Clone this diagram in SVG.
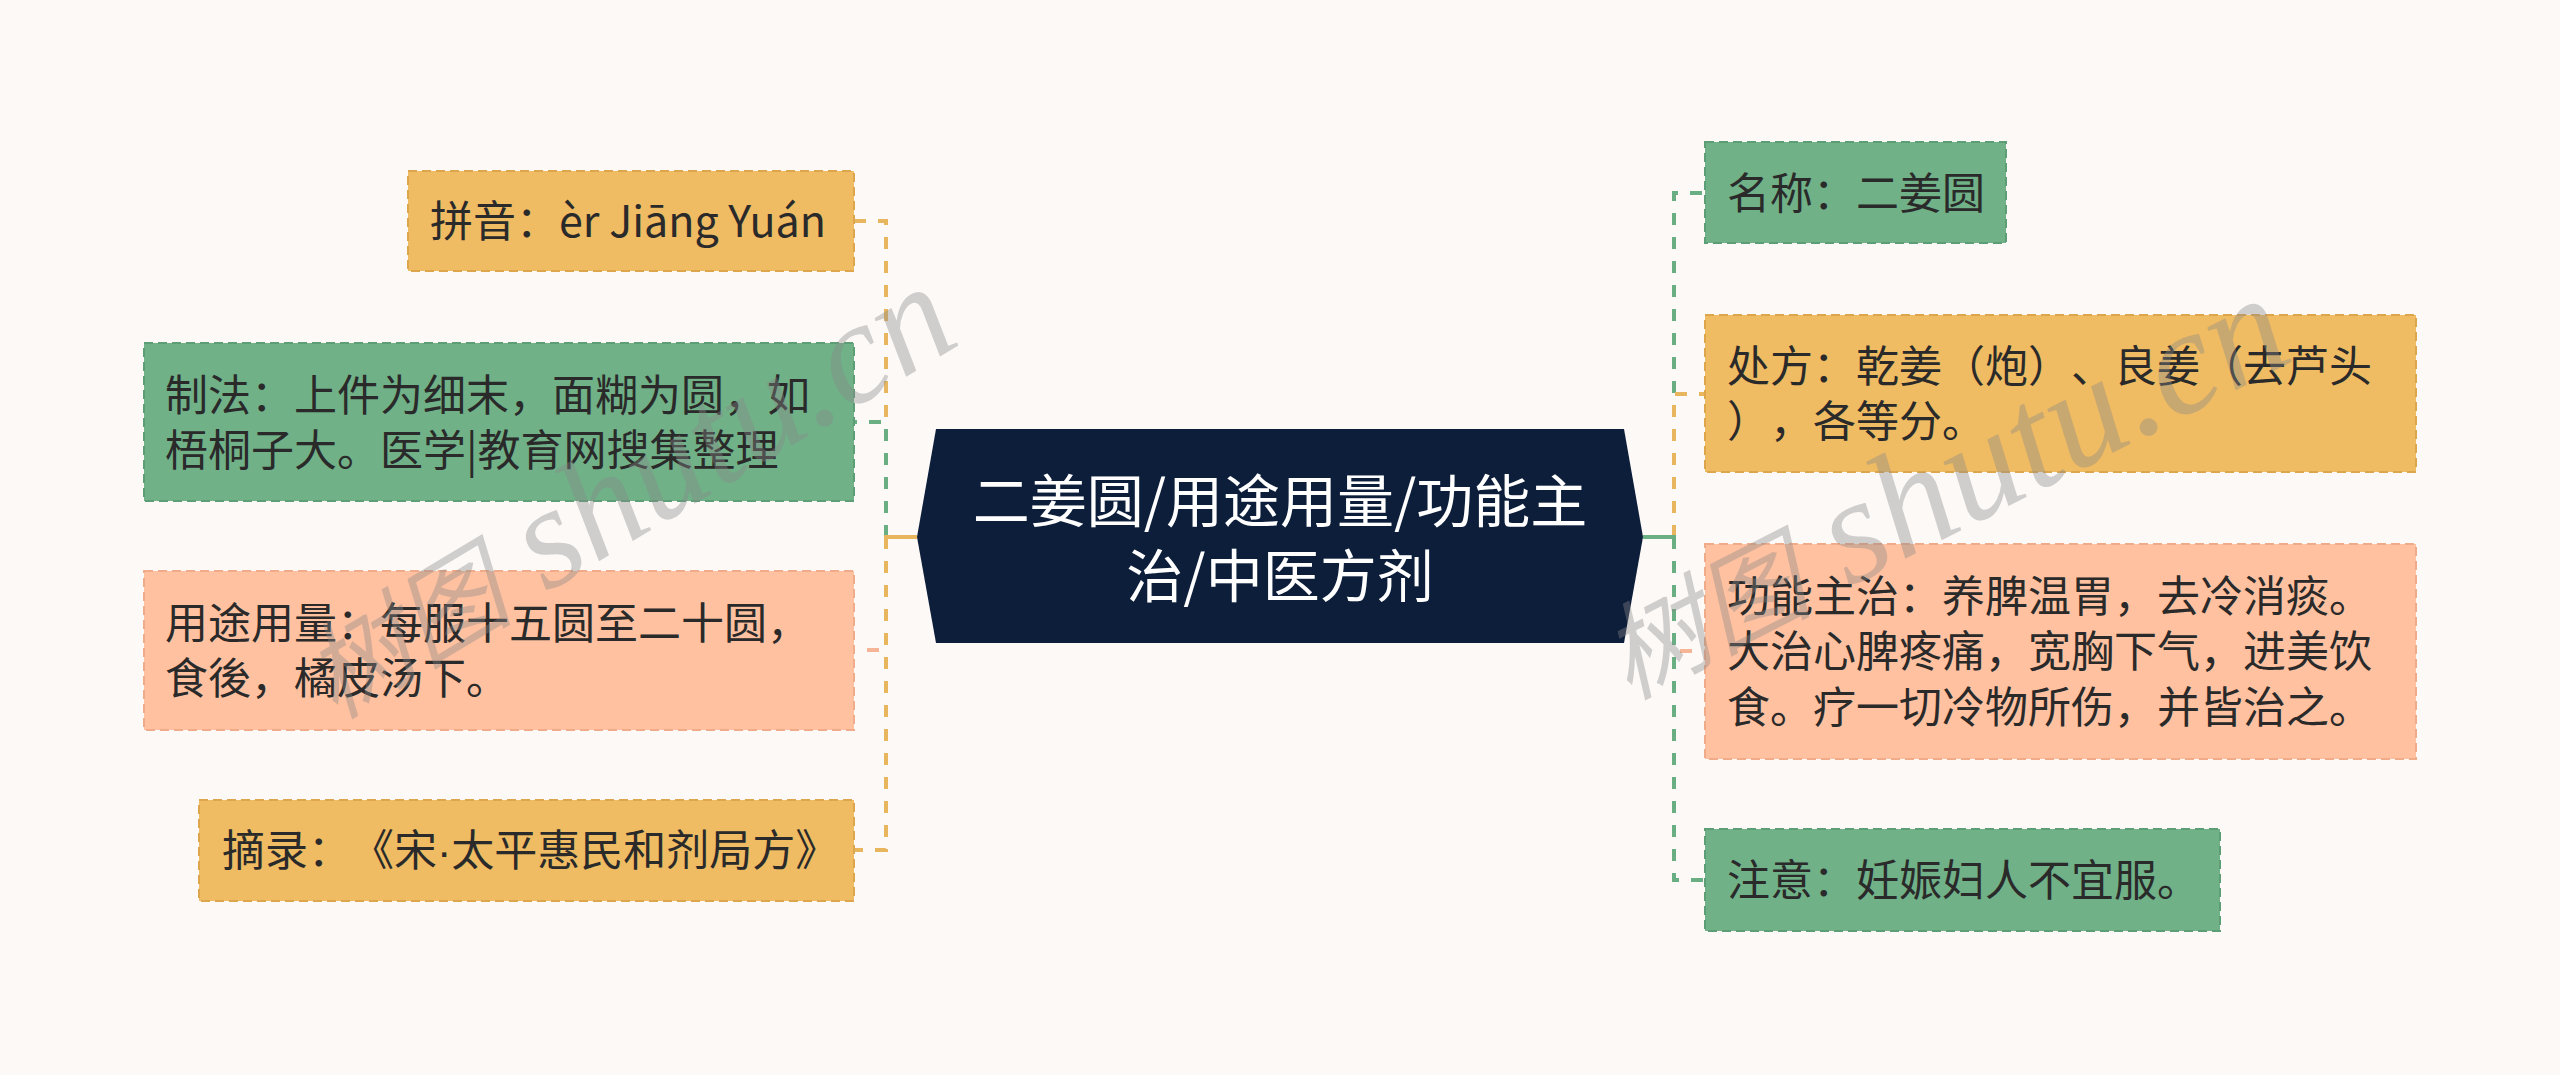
<svg xmlns="http://www.w3.org/2000/svg" width="2560" height="1075" viewBox="0 0 2560 1075">
<style>
.bg{fill:#FCF9F7}
.box{stroke-width:2;stroke-dasharray:9 5}
.or{fill:#EFBB63;stroke:#DDA64C}
.gr{fill:#70B188;stroke:#5E9E77}
.pe{fill:#FFC1A0;stroke:#F0AC8A}
text{text-spacing-trim:space-all}
.t{font-family:"Noto Sans CJK SC","Noto Sans",sans-serif;font-size:43px;fill:#2A2A2A}
.ct{font-family:"Noto Sans CJK SC","Noto Sans",sans-serif;font-size:57px;fill:#FFFFFF;text-anchor:middle}
.c{fill:none;stroke-width:4;stroke-dasharray:12 12}
.co{stroke:#E8B65E}
.cg{stroke:#6AAE84}
.cp{stroke:#F7B598}
.stub{fill:none;stroke-width:4}
.dot{font-family:"Liberation Sans",sans-serif}
.wm{font-family:"Liberation Serif","Noto Sans CJK SC",serif;font-style:italic;fill:#8A8A8A;fill-opacity:0.38}
</style>
<rect class="bg" x="0" y="0" width="2560" height="1075"/>

<g id="connectors">
<path class="c co" d="M886,537 V221 H854"/>
<path class="c cg" d="M886,537 V422 H854"/>
<path class="c cp" d="M886,537 V650 H854"/>
<path class="c co" d="M886,537 V850 H854"/>
<path class="stub co" d="M917,537 H884"/>
<path class="c cg" d="M1674,537 V193 H1705"/>
<path class="c co" d="M1674,537 V394 H1705"/>
<path class="c cp" d="M1674,537 V651 H1705"/>
<path class="c cg" d="M1674,537 V880 H1705"/>
<path class="stub cg" d="M1643,537 H1676"/>
</g>

<g id="center">
<polygon points="917,537 936,429 1624,429 1643,537 1624,643 936,643" fill="#0D1E3A"/>
<text class="ct" x="1280" y="522">二姜圆/用途用量/功能主</text>
<text class="ct" x="1280" y="597">治/中医方剂</text>
</g>

<g id="pinyin">
<rect class="box or" x="408" y="171" width="446" height="100"/>
<text class="t" x="430" y="237">拼音：èr Jiāng Yuán</text>
</g>
<g id="zhifa">
<rect class="box gr" x="144" y="343" width="710" height="158"/>
<text class="t" x="165" y="411">制法：上件为细末，面糊为圆，如</text>
<text class="t" x="165" y="466">梧桐子大。医学|教育网搜集整理</text>
</g>
<g id="yongtu">
<rect class="box pe" x="144" y="571" width="710" height="159"/>
<text class="t" x="165" y="639">用途用量：每服十五圆至二十圆，</text>
<text class="t" x="165" y="694">食後，橘皮汤下。</text>
</g>
<g id="zhailu">
<rect class="box or" x="199" y="800" width="655" height="101"/>
<text class="t" x="222" y="866">摘录：《宋<tspan class="dot">·</tspan>太平惠民和剂局方》</text>
</g>

<g id="mingcheng">
<rect class="box gr" x="1705" y="142" width="301" height="101"/>
<text class="t" x="1727" y="209">名称：二姜圆</text>
</g>
<g id="chufang">
<rect class="box or" x="1705" y="315" width="711" height="157"/>
<text class="t" x="1727" y="382">处方：乾姜（炮）、良姜（去芦头</text>
<text class="t" x="1727" y="437">），各等分。</text>
</g>
<g id="gongneng">
<rect class="box pe" x="1705" y="544" width="711" height="215"/>
<text class="t" x="1727" y="612">功能主治：养脾温胃，去冷消痰。</text>
<text class="t" x="1727" y="667">大治心脾疼痛，宽胸下气，进美饮</text>
<text class="t" x="1727" y="723">食。疗一切冷物所伤，并皆治之。</text>
</g>
<g id="zhuyi">
<rect class="box gr" x="1705" y="829" width="515" height="102"/>
<text class="t" x="1727" y="896">注意：妊娠妇人不宜服。</text>
</g>

<g id="watermarks">
<text class="wm" transform="translate(335,720) rotate(-31)"><tspan font-size="105">树图</tspan><tspan font-size="145"> shutu.cn</tspan></text>
<text class="wm" transform="translate(1628,700) rotate(-27)"><tspan font-size="105">树图</tspan><tspan font-size="150"> shutu.cn</tspan></text>
</g>
</svg>
